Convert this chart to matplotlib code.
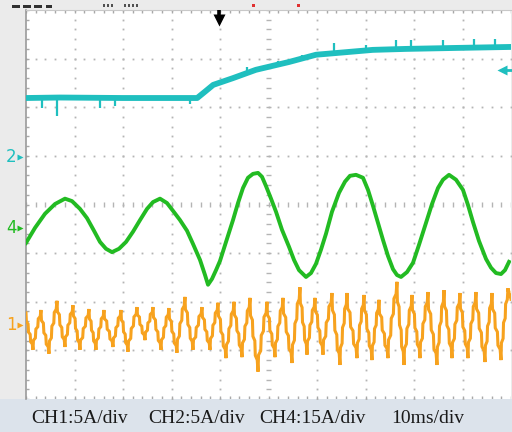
import numpy as np
import matplotlib
matplotlib.use("Agg")
import matplotlib.pyplot as plt
from matplotlib.transforms import blended_transform_factory

# ---------------- data (time in ms, amplitude in screen divisions) ----------------
ch2_t = [0.0, 7.0, 20.0, 35.3, 36.9, 38.6, 42.7, 47.4, 54.2, 59.8, 64.5, 71.5, 78.4, 88.7, 99.8]
ch2_y = [6.19, 6.20, 6.19, 6.19, 6.32, 6.46, 6.60, 6.77, 6.93, 7.08, 7.12, 7.18, 7.20, 7.22, 7.24]
ch2_spike_t = [3.3, 6.4, 15.3, 18.4, 33.8, 45.5, 52.0, 57.0, 63.5, 70.0, 76.3, 79.4, 86.0, 92.4, 96.7]
ch2_spike_lo = [5.99, 5.82, 5.99, 6.03, 6.07, 6.68, 6.84, 6.96, 7.05, 7.12, 7.15, 7.15, 7.17, 7.18, 7.19]
ch2_spike_hi = [6.19, 6.19, 6.19, 6.19, 6.19, 6.82, 6.96, 7.08, 7.33, 7.28, 7.39, 7.39, 7.39, 7.41, 7.41]

ch4_t = [0.0, 1.86, 3.92, 5.98, 8.04, 9.48, 11.13, 12.58, 14.02, 15.26, 16.49, 17.73, 19.18,
         20.62, 22.06, 23.51, 24.95, 26.19, 27.63, 29.07, 30.31, 31.75, 33.20, 34.43, 35.88,
         36.91, 37.53, 38.35, 39.18, 40.00, 41.24, 42.68, 43.71, 44.74, 45.77, 46.80, 47.84,
         48.66, 49.48, 50.52, 51.55, 52.78, 54.23, 55.26, 56.29, 57.73, 58.76, 59.79, 60.82,
         61.86, 63.09, 64.54, 65.77, 66.80, 68.04, 69.48, 70.52, 71.55, 72.58, 73.61, 74.64,
         75.67, 76.49, 77.32, 78.56, 79.79, 81.03, 82.47, 83.71, 84.95, 85.98, 87.22, 88.66,
         90.10, 91.13, 92.16, 93.40, 94.85, 95.88, 96.91, 97.94, 98.76, 99.59]
ch4_y = [3.21, 3.52, 3.81, 4.01, 4.12, 4.07, 3.91, 3.72, 3.46, 3.23, 3.09, 3.02, 3.09,
         3.23, 3.44, 3.68, 3.91, 4.05, 4.12, 4.03, 3.87, 3.68, 3.46, 3.19, 2.86,
         2.55, 2.35, 2.47, 2.65, 2.84, 3.23, 3.68, 4.03, 4.34, 4.55, 4.63, 4.65,
         4.57, 4.38, 4.12, 3.85, 3.48, 3.13, 2.86, 2.65, 2.51, 2.59, 2.78, 3.07,
         3.40, 3.85, 4.24, 4.47, 4.59, 4.61, 4.55, 4.30, 3.97, 3.62, 3.27, 2.94,
         2.67, 2.55, 2.51, 2.61, 2.80, 3.17, 3.62, 4.01, 4.34, 4.51, 4.61, 4.51,
         4.30, 3.99, 3.64, 3.25, 2.88, 2.70, 2.59, 2.57, 2.65, 2.82]

ch1_start = (0.0, 1.77)
ch1_end = (100.0, 2.05)
ch1_trough_t = [1.44, 4.74, 8.04, 11.13, 14.43, 17.94, 21.03, 24.54, 27.84, 31.13, 34.43, 37.94,
                41.24, 44.54, 47.84, 51.34, 54.85, 57.94, 61.24, 64.74, 68.25, 71.34, 74.64,
                77.94, 81.24, 84.74, 87.84, 91.13, 94.64, 97.94]
ch1_trough_y = [1.01, 0.93, 1.07, 1.01, 1.01, 1.07, 0.97, 1.21, 1.01, 0.95, 1.01, 1.01,
                0.84, 0.86, 0.56, 0.86, 0.74, 0.91, 0.91, 0.70, 0.84, 0.80, 0.84,
                0.70, 0.84, 0.70, 0.84, 0.84, 0.76, 0.80]
ch1_peak_t = [3.09, 6.39, 9.69, 12.99, 16.08, 19.59, 22.89, 26.19, 29.48, 32.78, 36.29, 39.59,
              42.89, 46.19, 49.69, 52.99, 56.49, 59.59, 63.09, 66.19, 69.69, 72.78, 76.49,
              79.59, 82.89, 86.19, 89.48, 92.78, 96.08, 99.38]
ch1_peak_y = [1.83, 2.02, 1.93, 1.85, 1.83, 1.83, 1.89, 1.89, 1.87, 2.10, 1.89, 1.98,
              2.00, 2.08, 2.00, 2.08, 2.30, 2.08, 2.18, 2.18, 2.14, 2.04, 2.41,
              2.14, 2.20, 2.24, 2.18, 2.20, 2.18, 2.28]

channel_labels = ["2", "4", "1"]
channel_levels = [4.98, 3.52, 1.52]
trigger_level = 6.77
trigger_time = 39.8
footer_labels = ["CH1:5A/div", "CH2:5A/div", "CH4:15A/div", "10ms/div"]

# ---------------- styling ----------------
C_CYAN = "#1fbfbf"
C_GREEN = "#22bb22"
C_ORANGE = "#f7a21e"
GRID = "#b4b4b4"

fig = plt.figure(figsize=(5.12, 4.32), dpi=100)
fig.patch.set_facecolor("#ebebeb")
# bottom info band
fig.add_artist(plt.Rectangle((0, 0), 1, 33 / 432, transform=fig.transFigure,
                             facecolor="#dce3eb", edgecolor="none", zorder=0))

ax = fig.add_axes([26 / 512, 1 - 399 / 432, 485 / 512, 389 / 432])
ax.set_facecolor("white")
ax.set_xlim(0, 100)
ax.set_ylim(0, 8)
ax.set_xticks([])
ax.set_yticks([])
for s in ["right", "bottom"]:
    ax.spines[s].set_visible(False)
ax.spines["left"].set_color("#9a9a9a")
ax.spines["left"].set_linewidth(1.2)
ax.spines["top"].set_color("#c8c8c8")
ax.spines["top"].set_linewidth(0.8)

# graticule: dotted major lines
minor_x = np.arange(0, 100.01, 2.0)
minor_y = np.arange(0, 8.001, 0.2)
for gx in np.arange(10, 100, 10):
    if gx == 50:
        continue
    ax.plot(np.full_like(minor_y, gx), minor_y, ls="none", marker="s", ms=1.3,
            color=GRID, mec="none", zorder=1)
for gy in np.arange(1, 8, 1):
    if gy == 4:
        continue
    ax.plot(minor_x, np.full_like(minor_x, gy), ls="none", marker="s", ms=1.3,
            color=GRID, mec="none", zorder=1)
# centre cross with small ticks
ax.vlines(minor_x, 4 - 0.05, 4 + 0.05, color=GRID, lw=1.0, zorder=1)
ax.hlines(minor_y, 50 - 0.5, 50 + 0.5, color=GRID, lw=1.0, zorder=1)
# border ticks
ax.vlines(minor_x, 8 - 0.06, 8, color="#a8a8a8", lw=1.0, zorder=1)
ax.vlines(minor_x, 0, 0.06, color="#a8a8a8", lw=1.0, zorder=1)
ax.hlines(minor_y, 0, 0.6, color="#a8a8a8", lw=1.0, zorder=1)

# CH2 (cyan)
ax.plot(ch2_t, ch2_y, color=C_CYAN, lw=4.2, solid_joinstyle="round", zorder=3)
ax.vlines(ch2_spike_t, ch2_spike_lo, ch2_spike_hi, color=C_CYAN, lw=1.6, zorder=3)

# CH4 (green)
ax.plot(ch4_t, ch4_y, color=C_GREEN, lw=2.8, solid_joinstyle="round", zorder=3)

# CH1 (orange) - staircase between read extremes
ext_t = [ch1_start[0]]
ext_y = [ch1_start[1]]
for tt, ty, pt, py in zip(ch1_trough_t, ch1_trough_y, ch1_peak_t, ch1_peak_y):
    ext_t += [tt, pt]
    ext_y += [ty, py]
ext_t.append(ch1_end[0])
ext_y.append(ch1_end[1])
ft = np.array([0.06, 0.30, 0.36, 0.60, 0.66, 0.90])
fy = np.array([0.24, 0.30, 0.52, 0.58, 0.78, 0.84])
xs, ys = [ext_t[0]], [ext_y[0]]
for i in range(len(ext_t) - 1):
    a_t, b_t, a_y, b_y = ext_t[i], ext_t[i + 1], ext_y[i], ext_y[i + 1]
    xs.extend(a_t + (b_t - a_t) * ft)
    ys.extend(a_y + (b_y - a_y) * fy)
    xs.append(b_t)
    ys.append(b_y)
ax.plot(xs, ys, color=C_ORANGE, lw=2.2, solid_joinstyle="miter", zorder=3)

# channel markers at left
tr = blended_transform_factory(ax.transAxes, ax.transData)
for lab, lev, col in zip(channel_labels, channel_levels, [C_CYAN, C_GREEN, C_ORANGE]):
    ax.text(-0.02, lev, lab, transform=tr, color=col, fontsize=12, ha="right",
            va="center", clip_on=False, family="DejaVu Sans")
    ax.plot([-0.012], [lev], transform=tr, marker=">", ms=5, color=col,
            clip_on=False, mec="none")

# trigger level marker (right)
ax.plot([0.981], [trigger_level], transform=tr, marker="<", ms=7, color=C_CYAN,
        mec="none", clip_on=False, zorder=4)
ax.plot([0.981, 1.0], [trigger_level, trigger_level], transform=tr, color=C_CYAN,
        lw=2, clip_on=False, zorder=4)

# trigger position arrow (top): shaft + head
ax.plot([trigger_time, trigger_time], [8.0, 7.83], color="black", lw=2.6,
        clip_on=False, zorder=5, solid_capstyle="butt")
ax.plot([trigger_time], [7.80], marker="v", ms=9, color="black", mec="none",
        clip_on=False, zorder=5)

# top status-bar glyphs
for x0, x1 in [(12, 20), (23, 31), (34, 42), (46, 52)]:
    fig.add_artist(plt.Rectangle((x0 / 512, 1 - 7.5 / 432), (x1 - x0) / 512, 3 / 432,
                                 transform=fig.transFigure, color="#303030", lw=0))
for x0 in [103, 107, 111, 124, 128, 132, 136]:
    fig.add_artist(plt.Rectangle((x0 / 512, 1 - 7 / 432), 2 / 512, 2.5 / 432,
                                 transform=fig.transFigure, color="#505050", lw=0))
for x0 in [252, 297]:
    fig.add_artist(plt.Rectangle((x0 / 512, 1 - 7 / 432), 2.5 / 512, 2.5 / 432,
                                 transform=fig.transFigure, color="#e03030", lw=0))

# footer text
for lab, xp in zip(footer_labels, [31, 148, 259, 391]):
    fig.text(xp / 512, 9 / 432, lab, fontsize=14, family="Liberation Serif",
             color="#1a1a1a", ha="left", va="baseline")

fig.savefig("out.png", dpi=100, facecolor=fig.get_facecolor())
